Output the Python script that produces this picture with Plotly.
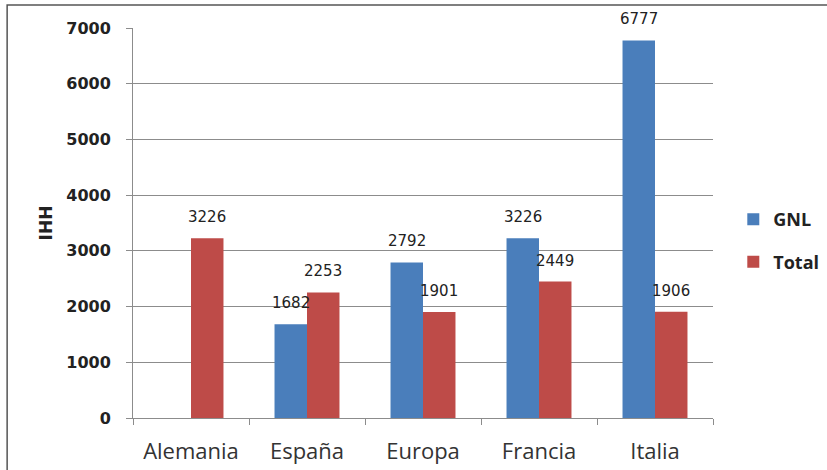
import plotly.graph_objects as go

categories = ["Alemania", "España", "Europa", "Francia", "Italia"]
gnl = [None, 1682, 2792, 3226, 6777]
total = [3226, 2253, 1901, 2449, 1906]
y_ticks = [0, 1000, 2000, 3000, 4000, 5000, 6000, 7000]

BLUE = "#4A7EBB"
RED = "#BE4B48"
GRID = "#8C8C8C"

fig = go.Figure()

fig.add_trace(go.Bar(
    x=categories, y=gnl, name="GNL",
    marker=dict(color=BLUE, line=dict(width=0)),
    legendgroup="a",
))
fig.add_trace(go.Bar(
    x=categories, y=total, name="Total",
    marker=dict(color=RED, line=dict(width=0)),
    legendgroup="b",
))

# value labels, a little above each bar (Excel style)
for vals, shift in ((gnl, -16), (total, 16)):
    for cat, v in zip(categories, vals):
        if v is None:
            continue
        fig.add_annotation(
            x=cat, y=v, xref="x", yref="y",
            text=str(v), showarrow=False,
            xshift=shift, yshift=10, yanchor="bottom",
            font=dict(family="DejaVu Sans", size=15, color="#222222"),
        )

# outer frame of the chart
fig.add_shape(type="rect", xref="paper", yref="paper",
              x0=-0.217, x1=1.3, y0=-0.5, y1=1.059,
              line=dict(color="#555555", width=1.5), layer="above")

fig.update_layout(
    width=827, height=470,
    barmode="group",
    bargap=0.44, bargroupgap=0,
    paper_bgcolor="white",
    plot_bgcolor="white",
    margin=dict(l=133, r=114, t=28, b=52, autoexpand=False),
    legend=dict(
        x=1.035, y=0.455, xanchor="left", yanchor="middle",
        font=dict(family="Open Sans", size=18, color="#222222", weight="bold"),
        traceorder="grouped", tracegroupgap=16,
        bgcolor="rgba(0,0,0,0)",
    ),
    xaxis=dict(
        automargin=False,
        showline=True, linecolor=GRID, linewidth=1,
        ticks="outside", tickson="boundaries", ticklen=6, tickcolor=GRID,
        ticklabelstandoff=14,
        tickfont=dict(family="Open Sans", size=22, color="#333333"),
        showgrid=False,
    ),
    yaxis=dict(
        automargin=False,
        range=[0, 7000],
        tickvals=y_ticks,
        showline=True, linecolor=GRID, linewidth=1,
        ticks="outside", ticklen=6, tickcolor=GRID,
        ticklabelstandoff=12,
        showgrid=True, gridcolor=GRID, gridwidth=1,
        zeroline=False,
        tickfont=dict(family="DejaVu Sans", size=16, color="#222222", weight="bold"),
        title=dict(text="<b>IHH</b>", font=dict(family="DejaVu Sans", size=17, color="#222222"),
                   standoff=9),
    ),
)

# drop the page's default body margin so the figure sits at the top-left corner
fig.write_html("out.html", config={"displayModeBar": False},
               post_script="document.body.style.margin='0';")
